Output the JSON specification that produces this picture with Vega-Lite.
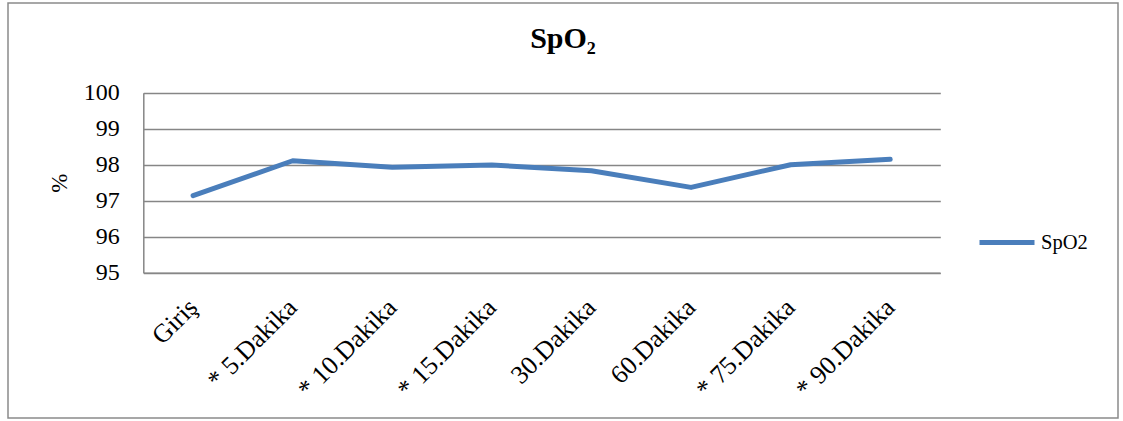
{
  "$schema": "https://vega.github.io/schema/vega-lite/v6.json",
  "autosize": {"type": "none"},
  "padding": {"left": 8, "top": 3, "right": 5, "bottom": 3},
  "width": 1110,
  "height": 415,
  "title": {
    "text": "SpO₂",
    "font": "Liberation Serif",
    "fontSize": 30,
    "fontWeight": "bold",
    "color": "#000000",
    "anchor": "middle",
    "frame": "group",
    "baseline": "alphabetic",
    "offset": -74.5
  },
  "data": {
    "values": [
      {"zaman": "Giriş", "spo2": 97.14},
      {"zaman": "* 5.Dakika", "spo2": 98.11},
      {"zaman": "* 10.Dakika", "spo2": 97.93},
      {"zaman": "* 15.Dakika", "spo2": 97.99},
      {"zaman": "30.Dakika", "spo2": 97.83},
      {"zaman": "60.Dakika", "spo2": 97.37},
      {"zaman": "* 75.Dakika", "spo2": 98.0},
      {"zaman": "* 90.Dakika", "spo2": 98.15}
    ]
  },
  "mark": {"type": "line", "strokeWidth": 5, "strokeCap": "round", "strokeJoin": "round"},
  "encoding": {
    "x": {
      "field": "zaman",
      "type": "nominal",
      "sort": null,
      "scale": {"type": "band", "range": [135.3, 932], "paddingInner": 0, "paddingOuter": 0},
      "axis": {
        "title": null,
        "orient": "bottom",
        "offset": -145.3,
        "grid": false,
        "ticks": false,
        "tickSize": 0,
        "domainColor": "#868686",
        "domainWidth": 1.5,
        "labelAngle": -45,
        "labelAlign": "right",
        "labelBaseline": "top",
        "labelPadding": 21,
        "labelOffset": -9,
        "labelFont": "Liberation Serif",
        "labelFontSize": 26,
        "labelColor": "#000000",
        "labelOverlap": false,
        "labelLimit": 400
      }
    },
    "y": {
      "field": "spo2",
      "type": "quantitative",
      "scale": {"domain": [95, 100], "range": [269.7, 89.7], "nice": false, "zero": false},
      "axis": {
        "title": "%",
        "orient": "left",
        "offset": -135.3,
        "values": [95, 96, 97, 98, 99, 100],
        "grid": false,
        "ticks": true,
        "tickSize": -797,
        "tickColor": "#868686",
        "tickWidth": 1.5,
        "domainColor": "#868686",
        "domainWidth": 1.5,
        "labelPadding": 821,
        "labelFont": "Liberation Serif",
        "labelFontSize": 24,
        "labelColor": "#000000",
        "titleFont": "Liberation Serif",
        "titleFontSize": 23,
        "titleFontWeight": "normal",
        "titleColor": "#000000",
        "titlePadding": 12
      }
    },
    "color": {
      "datum": "SpO2",
      "scale": {"range": ["#4a7ebb"]},
      "legend": {
        "title": null,
        "orient": "none",
        "legendX": 969,
        "legendY": 209.5,
        "padding": 0,
        "symbolType": "stroke",
        "symbolSize": 3025,
        "symbolStrokeWidth": 5,
        "labelFont": "Liberation Serif",
        "labelFontSize": 20.5,
        "labelColor": "#000000",
        "labelOffset": 4
      }
    }
  },
  "config": {
    "view": {"stroke": "#8a8a8a", "strokeWidth": 1.5, "fill": "#ffffff"},
    "background": "#ffffff"
  }
}
